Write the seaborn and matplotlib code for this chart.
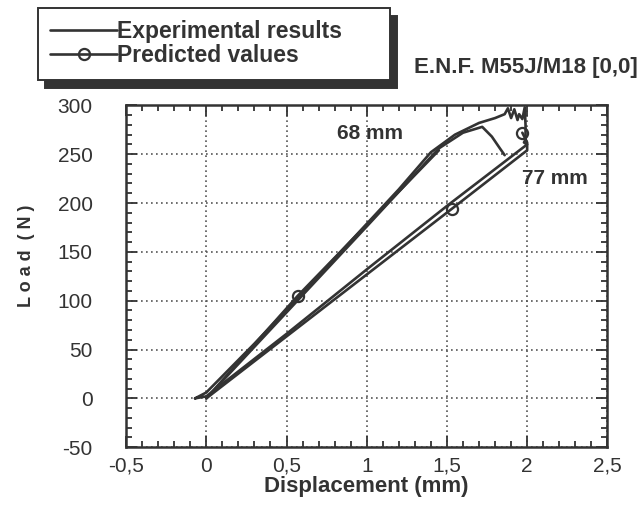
import numpy as np
import pandas as pd
import seaborn as sns
import matplotlib.pyplot as plt
from matplotlib.ticker import MultipleLocator

# Experimental curve, 68 mm crack: loading, peak with spikes, then unloading along 77 mm line
exp_a_x = [-0.07, 0.0, 0.3, 0.6, 0.9, 1.2, 1.4, 1.55, 1.7, 1.8, 1.86, 1.88, 1.9, 1.92,
           1.94, 1.95, 1.97, 1.985, 1.99, 1.99, 1.98, 2.0, 1.5, 1.0, 0.5, 0.0, -0.07]
exp_a_y = [0, 6, 56, 108, 161, 214, 252, 270, 282, 287, 291, 297, 287, 296,
           285, 291, 286, 298, 280, 265, 262, 260, 197, 132, 66, 2, 0]

# second experimental trace (inner curve of the upper band)
exp_b_x = [0.0, 0.5, 1.0, 1.45, 1.6, 1.72, 1.78, 1.83, 1.86]
exp_b_y = [0, 88, 176, 256, 272, 278, 268, 256, 249]

# Predicted values
pred_68_x = [0.0, 0.57, 1.45]
pred_68_y = [0, 105, 254]
pred_77_x = [0.0, 1.53, 2.0, 2.0, 1.97]
pred_77_y = [0, 194, 254, 262, 272]

x_ticks = [-0.5, 0, 0.5, 1, 1.5, 2, 2.5]
x_labels = ["-0,5", "0", "0,5", "1", "1,5", "2", "2,5"]
y_ticks = [-50, 0, 50, 100, 150, 200, 250, 300]
y_labels = ["-50", "0", "50", "100", "150", "200", "250", "300"]

sns.set_style("ticks")
plt.rcParams['font.family'] = ['Liberation Sans', 'DejaVu Sans']

ink = "#333333"
fig = plt.figure(figsize=(6.4, 5.14), dpi=100)
ax = fig.add_axes([0.197, 0.130, 0.752, 0.665])

sns.lineplot(x=exp_a_x, y=exp_a_y, sort=False, estimator=None, color=ink, lw=1.9, ax=ax,
             label="Experimental results")
sns.lineplot(x=exp_b_x, y=exp_b_y, sort=False, estimator=None, color=ink, lw=1.9, ax=ax)
sns.lineplot(x=pred_68_x, y=pred_68_y, sort=False, estimator=None, color=ink, lw=1.9, ax=ax,
             marker="o", markersize=8, markerfacecolor="none", markeredgecolor=ink,
             markeredgewidth=1.6, markevery=[1], label="Predicted values")
sns.lineplot(x=pred_77_x, y=pred_77_y, sort=False, estimator=None, color=ink, lw=1.9, ax=ax,
             marker="o", markersize=8, markerfacecolor="none", markeredgecolor=ink,
             markeredgewidth=1.6, markevery=[1, 4])

ax.set_xlim(-0.5, 2.5)
ax.set_ylim(-50, 300)
ax.set_xticks(x_ticks)
ax.set_xticklabels(x_labels)
ax.set_yticks(y_ticks)
ax.set_yticklabels(y_labels)
ax.xaxis.set_minor_locator(MultipleLocator(0.1))
ax.yaxis.set_minor_locator(MultipleLocator(10))
ax.tick_params(which="both", direction="in", top=True, right=True, colors=ink,
               labelsize=15, width=1.3)
ax.tick_params(which="major", length=8)
ax.tick_params(axis="x", which="major", pad=7)
ax.tick_params(axis="y", which="major", pad=24)
ax.tick_params(which="minor", length=4)
for s in ax.spines.values():
    s.set_linewidth(1.8)
    s.set_color(ink)
ax.grid(True, which="major", ls=(0, (1, 2)), color="#555555", lw=1.2)

ax.set_xlabel("Displacement (mm)", fontsize=16, fontweight="bold", color=ink, labelpad=0)
ax.set_ylabel("L o a d  ( N )", fontsize=13, fontweight="bold", color=ink)
ax.yaxis.set_label_coords(-0.19, 0.56)

ax.text(1.02, 271, "68 mm", fontsize=15, fontweight="bold", color=ink, ha="center", va="center")
ax.text(2.17, 225, "77 mm", fontsize=15, fontweight="bold", color=ink, ha="center", va="center")
fig.text(0.996, 0.868, "E.N.F. M55J/M18 [0,0]", fontsize=16, fontweight="bold", color=ink,
         ha="right", va="center")

ax.get_legend().remove()
handles = [ax.lines[0], ax.lines[2]]
leg = fig.legend(handles=handles, labels=["Experimental results", "Predicted values"],
                 loc="upper left", bbox_to_anchor=(0.059, 0.845, 0.550, 0.14), mode="expand",
                 fancybox=False,
                 shadow={"ox": 5, "oy": -6, "color": "#333333", "alpha": 1},
                 handlelength=2.9, handletextpad=0.0, borderpad=0.55, labelspacing=0.05,
                 prop={"size": 16.5, "weight": "bold"}, framealpha=1, borderaxespad=0)
leg.get_frame().set_edgecolor(ink)
leg.get_frame().set_linewidth(1.4)
for t in leg.get_texts():
    t.set_color(ink)

fig.savefig("out.png", dpi=100)
